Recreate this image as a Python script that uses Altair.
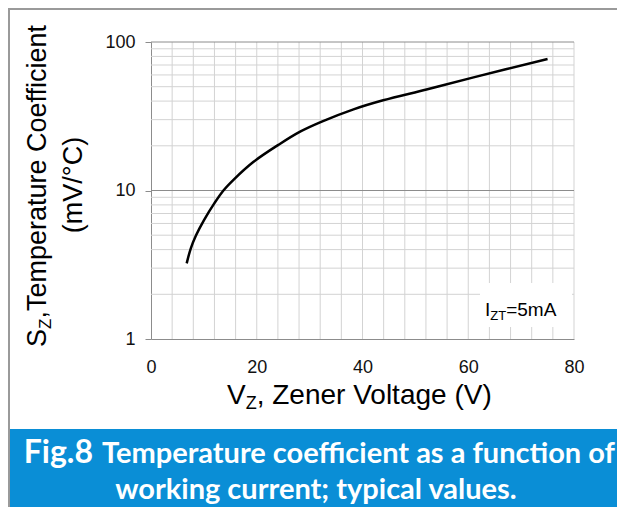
import altair as alt
import pandas as pd

# ---- data ----
vz = [6.75, 7.5, 8.5, 10.0, 12.0, 13.7, 15.6, 19.4, 24.1, 28.2, 32.3, 38.3, 43.9, 52.1, 61.0, 75.0]
sz = [3.23, 4.05, 4.98, 6.3, 8.22, 10.0, 11.8, 15.6, 20.3, 24.9, 29.1, 35.2, 40.5, 47.9, 57.8, 76.8]

x_ticks = [0, 20, 40, 60, 80]
y_ticks = [1, 10, 100]
x_grid = [4, 8, 12, 16, 20, 24, 28, 32, 36, 40, 44, 48, 52, 56, 60, 64, 68, 72, 76, 80]
y_minor = [2, 3, 4, 5, 6, 7, 8, 9, 20, 30, 40, 50, 60, 70, 80, 90]
y_major = [10, 100]

W, H = 423, 297
FONT = "Liberation Sans"
BANNER_FONT = "Lato"

xs = alt.Scale(domain=[0, 80], nice=False, zero=False)
ys = alt.Scale(type="log", domain=[1, 100], nice=False)

X_AXIS = alt.Axis(
    values=x_ticks, grid=False, ticks=False, domain=True, domainColor="#8c8c8c",
    labelFont=FONT, labelFontSize=18, labelColor="#111", labelPadding=19,
    labelFlush=False, title=None)
Y_AXIS = alt.Axis(
    values=y_ticks, format="d", grid=False, ticks=True, tickSize=6, tickColor="#8c8c8c",
    domain=True, domainColor="#8c8c8c", labelFont=FONT, labelFontSize=18,
    labelColor="#111", labelPadding=10, labelFlush=False, title=None)


def txt(s, x, y, size, color="black", font=FONT, weight="normal", align="left", angle=0, baseline="alphabetic"):
    return alt.Chart(pd.DataFrame({"t": [s]})).mark_text(
        font=font, fontSize=size, fontWeight=weight, color=color, align=align,
        baseline=baseline, angle=angle
    ).encode(x=alt.value(x), y=alt.value(y), text="t:N")


def box(x, x2, y, y2, color):
    return alt.Chart(pd.DataFrame({"a": [0]})).mark_rect(color=color).encode(
        x=alt.value(x), x2=alt.value(x2), y=alt.value(y), y2=alt.value(y2))


# frame + banner (svg spans plot x -143..466, y -34..465)
frame_top = box(-143, 466, -34, -32, "#9a9a9a")
frame_left = box(-143, -141, -34, 465, "#9a9a9a")
banner = box(-141, 466, 387, 465, "#0a8ed6")

# grid
vgrid = alt.Chart(pd.DataFrame({"vz": x_grid})).mark_rule(color="#d3d3d3", strokeWidth=1).encode(
    x=alt.X("vz:Q", scale=xs, axis=X_AXIS))
hminor = alt.Chart(pd.DataFrame({"sz": y_minor})).mark_rule(color="#d3d3d3", strokeWidth=1).encode(
    y=alt.Y("sz:Q", scale=ys, axis=Y_AXIS))
hmajor = alt.Chart(pd.DataFrame({"sz": y_major})).mark_rule(color="#8c8c8c", strokeWidth=1).encode(
    y=alt.Y("sz:Q", scale=ys, axis=Y_AXIS))

curve = alt.Chart(pd.DataFrame({"vz": vz, "sz": sz})).mark_line(
    color="black", strokeWidth=2.5, interpolate="catmull-rom"
).encode(
    x=alt.X("vz:Q", scale=xs, axis=X_AXIS),
    y=alt.Y("sz:Q", scale=ys, axis=Y_AXIS),
)

# legend box
legend_bg = box(329, 421, 241, 285, "white")
leg1 = txt("I", 334, 274, 19)
leg2 = txt("ZT", 339.3, 278, 13)
leg3 = txt("=5mA", 355.2, 274, 19)

# x title with subscript
xt1 = txt("V", 76, 362, 28)
xt2 = txt("Z", 94.7, 367, 18)
xt3 = txt(", Zener Voltage (V)", 105.7, 362, 28)

# y title with subscript
yt1 = txt("S", -105.5, 305, 27, angle=270)
yt2 = txt("Z", -100.5, 287, 17, angle=270)
yt3 = txt(",Temperature Coefficient", -105.5, 276.6, 27, angle=270)
yt4 = txt("(mV/°C)", -69, 143, 27, angle=270, align="center")

# banner text
b1 = txt("Fig.8", -58, 421, 32, color="white", font=BANNER_FONT, weight="bold", align="right")
b2 = txt("Temperature coefficient as a function of", -49, 421, 29, color="white", font=BANNER_FONT, weight="bold")
b3 = txt("working current; typical values.", 165, 457, 29, color="white", font=BANNER_FONT, weight="bold", align="center")

chart = alt.layer(
    frame_top, frame_left, banner, vgrid, hminor, hmajor, curve, legend_bg,
    leg1, leg2, leg3, xt1, xt2, xt3, yt1, yt2, yt3, yt4, b1, b2, b3
).properties(
    width=W, height=H,
    padding={"left": 143, "top": 34, "right": 43, "bottom": 168},
    autosize=alt.AutoSizeParams(type="none"),
    background="white",
).configure_view(stroke=None)

chart.save("out.html", embed_options={"renderer": "svg", "actions": False})
